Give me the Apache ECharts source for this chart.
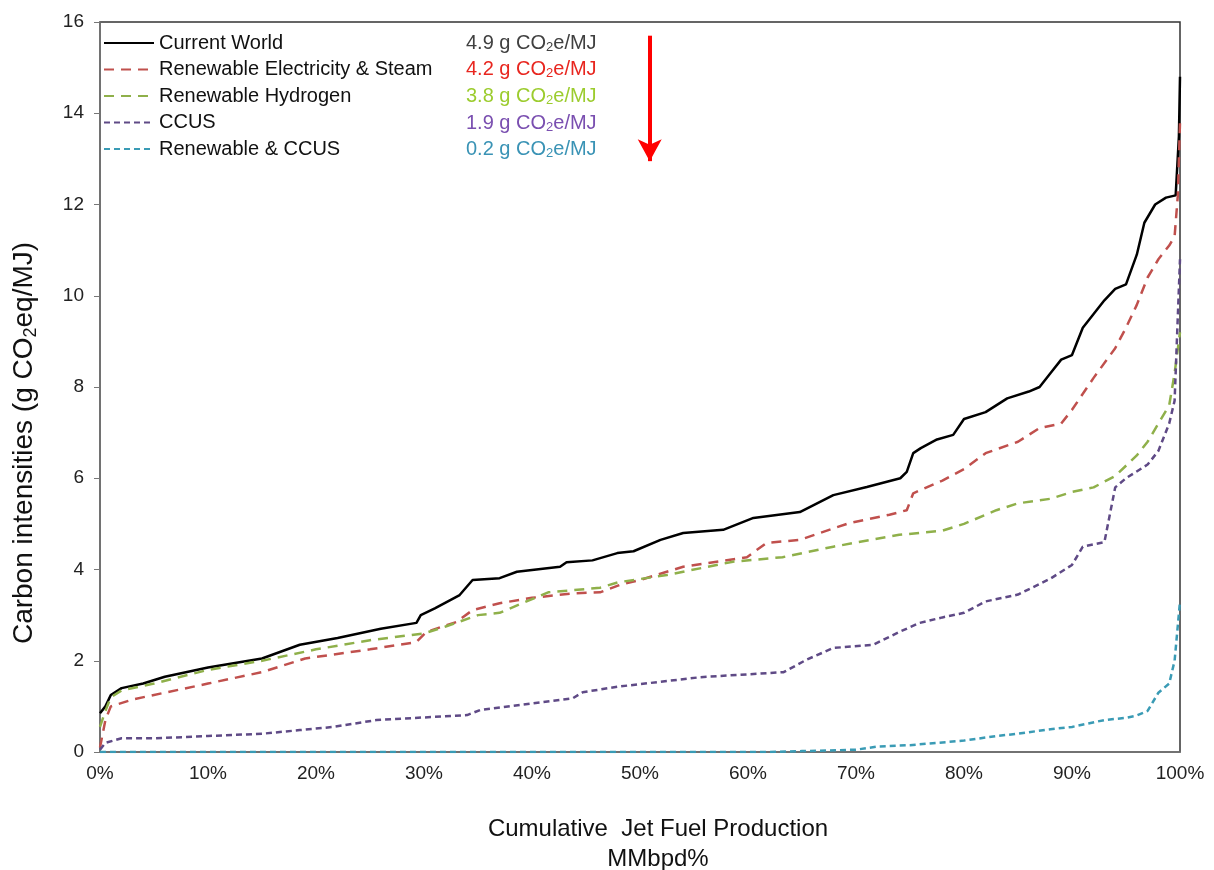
<!DOCTYPE html>
<html>
<head>
<meta charset="utf-8">
<script src="https://cdn.jsdelivr.net/npm/echarts@6/dist/echarts.min.js"></script>
<style>
  html, body { margin: 0; padding: 0; background: #fff; }
  #chart { width: 1214px; height: 870px; }
</style>
</head>
<body>
<div id="chart"></div>
<script>
const chart = echarts.init(document.getElementById("chart"));

// x = cumulative jet fuel production (%), y = carbon intensity (g CO2eq/MJ)
const currentWorld = [
    [0, 0.85], [0.5, 1.0], [1, 1.25], [2, 1.4], [4, 1.5], [6, 1.65], [10, 1.85], [15, 2.05],
    [18.5, 2.35], [22, 2.5], [26, 2.7], [29.3, 2.83], [29.7, 3.0], [31, 3.15], [33.3, 3.44],
    [34.5, 3.77], [37, 3.81], [38.6, 3.95], [42.6, 4.06], [43.2, 4.16], [45.6, 4.2], [47.9, 4.36],
    [49.4, 4.4], [51.9, 4.65], [54, 4.8], [57.7, 4.87], [60.5, 5.13], [64.8, 5.26], [67.9, 5.63],
    [71, 5.81], [74.1, 6.0], [74.7, 6.14], [75.3, 6.55], [76, 6.66], [77.5, 6.85], [79, 6.95],
    [80, 7.3], [82, 7.45], [84, 7.75], [86, 7.9], [87, 8.0], [88, 8.3], [89, 8.6], [90, 8.7],
    [91, 9.3], [92, 9.6], [93, 9.9], [94, 10.15], [95, 10.25], [96, 10.9], [96.7, 11.6],
    [97.7, 12.0], [98.7, 12.15], [99.6, 12.2], [99.9, 13.5], [100, 14.8]
];
const renewableElecSteam = [
    [0, 0.1], [0.5, 0.7], [1, 1.0], [3, 1.15], [10, 1.5], [15, 1.75], [19, 2.05], [25, 2.25],
    [29.3, 2.41], [30.2, 2.63], [33, 2.85], [34.5, 3.11], [37, 3.26], [40, 3.38], [44, 3.48],
    [46.3, 3.5], [48.1, 3.66], [50, 3.77], [54, 4.06], [59.9, 4.27], [61.7, 4.58], [64.8, 4.65],
    [69.4, 5.02], [73.1, 5.2], [74.7, 5.3], [75.3, 5.67], [78, 5.95], [80, 6.2], [82, 6.55],
    [85, 6.8], [87, 7.1], [89, 7.2], [90, 7.5], [92, 8.2], [94, 8.85], [95, 9.3], [96, 9.8],
    [97, 10.4], [98, 10.8], [99, 11.1], [99.5, 11.3], [99.8, 12.2], [100, 13.8]
];
const renewableHydrogen = [
    [0, 0.55], [0.5, 0.9], [1, 1.2], [2, 1.35], [5, 1.5], [10, 1.8], [15, 2.0], [20, 2.25],
    [25, 2.45], [30, 2.6], [32, 2.75], [35, 3.0], [37, 3.05], [41.5, 3.5], [46.3, 3.6],
    [48, 3.72], [52.5, 3.88], [58.6, 4.17], [63.2, 4.27], [67.9, 4.5], [74, 4.76], [78, 4.85],
    [80, 5.0], [83, 5.3], [85, 5.45], [88, 5.55], [90, 5.7], [92, 5.8], [94, 6.05], [96, 6.5],
    [97, 6.8], [98, 7.2], [99, 7.6], [99.5, 8.3], [100, 9.2]
];
const ccus = [
    [0, 0.05], [0.5, 0.2], [2, 0.3], [5, 0.3], [10, 0.35], [15, 0.4], [18.5, 0.48], [21.6, 0.55],
    [25.6, 0.7], [34, 0.81], [35.2, 0.92], [43.8, 1.18], [44.7, 1.31], [47.9, 1.43],
    [55.6, 1.64], [63.3, 1.75], [65.4, 2.02], [67.9, 2.28], [71.6, 2.35], [74, 2.63],
    [75.9, 2.83], [78, 2.95], [80, 3.05], [82, 3.3], [85, 3.45], [88, 3.8], [90, 4.1],
    [91, 4.5], [93, 4.6], [94, 5.8], [95, 6.0], [97, 6.3], [98, 6.6], [99, 7.2], [99.5, 7.7],
    [100, 10.8]
];
const renewableCcus = [
    [0, 0], [62, 0], [65, 0.02], [70, 0.05], [72, 0.12], [75, 0.15], [80, 0.25], [83, 0.35],
    [85, 0.4], [88, 0.5], [90, 0.55], [93, 0.7], [95, 0.75], [96, 0.8], [97, 0.9], [98, 1.3],
    [99, 1.5], [99.5, 2.0], [100, 3.3]
];

const seriesNames = ["Current World", "Renewable Electricity & Steam", "Renewable Hydrogen", "CCUS", "Renewable & CCUS"];
const averages = ["4.9", "4.2", "3.8", "1.9", "0.2"];
const avgColors = ["#404040", "#e8261f", "#9ccc2e", "#7a4fb0", "#3a93b5"];

// arrow: x position, from / to (y units)
const arrowX = 50.9;
const arrowY = [15.7, 12.95];

const FONT = '"Liberation Sans", Arial, sans-serif';

function line(name, data, color, dash) {
    return {
        name: name,
        type: 'line',
        data: data,
        showSymbol: false,
        symbol: 'none',
        color: color,
        lineStyle: { color: color, width: 2.5, type: dash },
        animation: false
    };
}

const series = [
    line(seriesNames[0], currentWorld, '#000000', 'solid'),
    line(seriesNames[1], renewableElecSteam, '#c0504d', [10, 7]),
    line(seriesNames[2], renewableHydrogen, '#8fb04a', [10, 7]),
    line(seriesNames[3], ccus, '#5f4a86', [6, 4]),
    line(seriesNames[4], renewableCcus, '#3a9bb5', [6, 4])
];

series[0].markLine = {
    silent: true,
    symbol: ['none', 'arrow'],
    symbolSize: [18, 22],
    label: { show: false },
    lineStyle: { color: '#ff0000', width: 4, type: 'solid' },
    data: [[{ coord: [arrowX, arrowY[0]] }, { coord: [arrowX, arrowY[1]] }]]
};

let graphic = [];
averages.forEach(function (v, i) {
    graphic.push({
        type: 'text',
        left: 466,
        top: 33 + i * 26.7,
        style: {
            text: v + ' g CO{s|2}e/MJ',
            fill: avgColors[i],
            font: '20px ' + FONT,
            rich: {
                s: { fontSize: 13, fill: avgColors[i], padding: [8, 0, 0, 0], fontFamily: 'Liberation Sans' }
            }
        }
    });
});

// y axis title (placed lower than the plot middle, as in the source)
graphic.push({
    type: 'text',
    x: 24, y: 443,
    rotation: Math.PI / 2,
    style: {
        text: 'Carbon intensities (g CO{s|2}eq/MJ)',
        fill: '#111',
        font: '28px ' + FONT,
        align: 'center',
        verticalAlign: 'middle',
        rich: {
            s: { fontSize: 18, fill: '#111', padding: [14, 0, 0, 0], fontFamily: 'Liberation Sans' }
        }
    }
});

// x axis title
graphic.push({
    type: 'text',
    x: 658, y: 844,
    style: {
        text: 'Cumulative  Jet Fuel Production\nMMbpd%',
        fill: '#111',
        font: '24px ' + FONT,
        lineHeight: 30,
        align: 'center',
        verticalAlign: 'middle'
    }
});

let option = {
    backgroundColor: '#fff',
    animation: false,
    grid: {
        left: 100, right: 34, top: 22, bottom: 118,
        show: true, borderColor: '#333', borderWidth: 1.5
    },
    legend: {
        orient: 'vertical',
        left: 103, top: 33,
        padding: 0,
        itemWidth: 50, itemHeight: 14,
        itemGap: 6.5,
        itemStyle: { opacity: 0 },
        textStyle: { fontSize: 20, color: '#111', fontFamily: 'Liberation Sans' },
        data: seriesNames
    },
    xAxis: {
        type: 'value',
        min: 0, max: 100, interval: 10,
        axisLine: { show: true, lineStyle: { color: '#777', width: 1.5 } },
        axisTick: { show: false },
        splitLine: { show: false },
        axisLabel: { formatter: '{value}%', fontSize: 19, color: '#222', margin: 12, fontFamily: 'Liberation Sans' }
    },
    yAxis: {
        type: 'value',
        min: 0, max: 16, interval: 2,
        axisLine: { show: true, lineStyle: { color: '#777', width: 1.5 } },
        axisTick: { show: true, inside: false, length: 6, lineStyle: { color: '#777' } },
        splitLine: { show: false },
        axisLabel: { fontSize: 19, color: '#222', margin: 16, fontFamily: 'Liberation Sans' }
    },
    graphic: graphic,
    series: series
};

chart.setOption(option);
</script>
</body>
</html>
